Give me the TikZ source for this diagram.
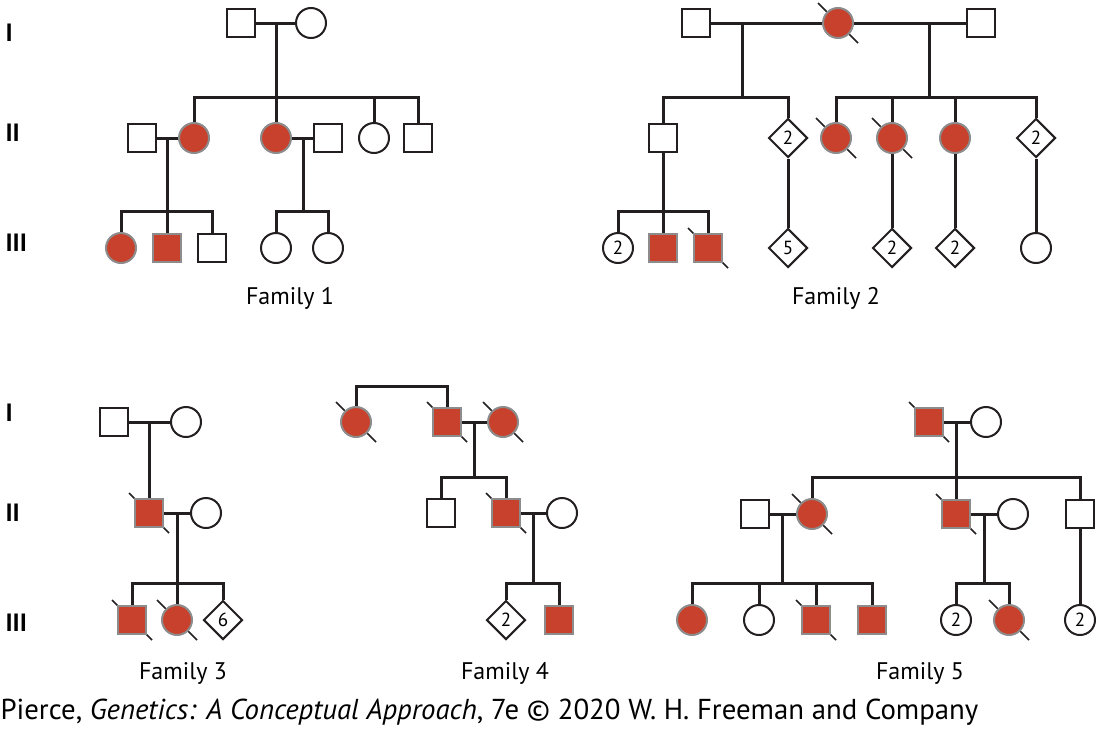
\documentclass[tikz,border=0pt]{standalone}
\usepackage{fontspec}
\setmainfont{PT Sans}
\usetikzlibrary{shapes.geometric,backgrounds,calc}
\definecolor{affred}{HTML}{C8412D}
\definecolor{ink}{HTML}{231F20}
\tikzset{
  sym/.style={draw=ink, line width=2pt, fill=white, inner sep=0pt, font=\fontsize{19}{19}\selectfont},
  male/.style={sym, rectangle, minimum size=28pt},
  female/.style={sym, circle, minimum size=30pt},
  unknown/.style={sym, diamond, minimum size=39pt},
  aff/.style={fill=affred, draw=gray!90},
  conn/.style={draw=ink, line width=3pt},
  slash/.style={draw=ink, line width=1.5pt},
  gen/.style={font=\fontsize{25}{25}\selectfont\bfseries, anchor=west},
  fam/.style={font=\fontsize{24}{24}\selectfont}
}
\begin{document}
\begin{tikzpicture}[x=1pt,y=-1pt]
	\useasboundingbox (0,0) rectangle (1099,731);
	% generation labels
	\node[gen] (g1a) at (2,33) {I};
	\node[gen] (g2a) at (2,133) {II};
	\node[gen] (g3a) at (2,243) {III};
	\node[gen] (g1b) at (2,413) {I};
	\node[gen] (g2b) at (2,513) {II};
	\node[gen] (g3b) at (2,623) {III};
	% Family 1
	\node[male] (f1a) at (241,23) {};
	\node[female] (f1b) at (311,23) {};
	\node[male] (f1c) at (142,138) {};
	\node[female,aff] (f1d) at (194,138) {};
	\node[female,aff] (f1e) at (276,138) {};
	\node[male] (f1f) at (328,138) {};
	\node[female] (f1g) at (374,138) {};
	\node[male] (f1h) at (418,138) {};
	\node[female,aff] (f1i) at (121,248) {};
	\node[male,aff] (f1l) at (167,248) {};
	\node[male] (f1m) at (212,248) {};
	\node[female] (f1o) at (276,248) {};
	\node[female] (f1p) at (328,248) {};
	\coordinate (f1j) at (276,23);
	\coordinate (f1s) at (276,97);
	\coordinate (f1k) at (167,138);
	\coordinate (f1t) at (167,211);
	\coordinate (f1n) at (303,138);
	\coordinate (f1u) at (303,211);
	\node[fam] (fam1) at (290,298) {Family 1};
	% Family 2
	\node[male] (f2a) at (696,23) {};
	\node[female,aff] (f2b) at (838,23) {};
	\node[male] (f2c) at (981,23) {};
	\node[male] (f2d) at (663,138) {};
	\node[unknown] (f2e) at (788,138) {2};
	\node[female,aff] (f2f) at (836,138) {};
	\node[female,aff] (f2g) at (892,138) {};
	\node[female,aff] (f2h) at (955,138) {};
	\node[unknown] (f2i) at (1036,138) {2};
	\node[female] (f2j) at (618,248) {2};
	\node[male,aff] (f2k) at (663,248) {};
	\node[male,aff] (f2l) at (708,248) {};
	\node[unknown] (f2m) at (788,248) {5};
	\node[unknown] (f2n) at (892,248) {2};
	\node[unknown] (f2o) at (955,248) {2};
	\node[female] (f2p) at (1036,248) {};
	\coordinate (f2q) at (742,23);
	\coordinate (f2s) at (742,97);
	\coordinate (f2r) at (929,23);
	\coordinate (f2t) at (929,97);
	\coordinate (f2u) at (663,211);
	\node[fam] (fam2) at (836,298) {Family 2};
	% Family 3
	\node[male] (f3a) at (114,422) {};
	\node[female] (f3b) at (186,422) {};
	\node[male,aff] (f3c) at (149,513) {};
	\node[female] (f3d) at (206,513) {};
	\node[male,aff] (f3e) at (132,620) {};
	\node[female,aff] (f3f) at (177,620) {};
	\node[unknown] (f3g) at (223,620) {6};
	\coordinate (f3j) at (149,422);
	\coordinate (f3k) at (177,513);
	\coordinate (f3s) at (177,583);
	\node[fam] (fam3) at (183,673) {Family 3};
	% Family 4
	\node[female,aff] (f4a) at (356,422) {};
	\node[male,aff] (f4b) at (447,422) {};
	\node[female,aff] (f4c) at (503,422) {};
	\node[male] (f4d) at (441,513) {};
	\node[male,aff] (f4e) at (506,513) {};
	\node[female] (f4f) at (562,513) {};
	\node[unknown] (f4g) at (506,620) {2};
	\node[male,aff] (f4h) at (559,620) {};
	\coordinate (f4top) at (400,386);
	\coordinate (f4j) at (474,422);
	\coordinate (f4s) at (474,477);
	\coordinate (f4k) at (533,513);
	\coordinate (f4t) at (533,583);
	\node[fam] (fam4) at (505,673) {Family 4};
	% Family 5
	\node[male,aff] (f5a) at (929,422) {};
	\node[female] (f5b) at (986,422) {};
	\node[male] (f5c) at (755,514) {};
	\node[female,aff] (f5d) at (812,514) {};
	\node[male,aff] (f5e) at (956,514) {};
	\node[female] (f5f) at (1013,514) {};
	\node[male] (f5g) at (1080,514) {};
	\node[female,aff] (f5h) at (692,620) {};
	\node[female] (f5i) at (759,620) {};
	\node[male,aff] (f5k) at (816,620) {};
	\node[male,aff] (f5l) at (872,620) {};
	\node[female] (f5m) at (956,620) {2};
	\node[female,aff] (f5n) at (1009,620) {};
	\node[female] (f5o) at (1080,620) {2};
	\coordinate (f5j) at (956,422);
	\coordinate (f5s) at (956,477);
	\coordinate (f5q) at (782,514);
	\coordinate (f5t) at (782,583);
	\coordinate (f5r) at (984,514);
	\coordinate (f5u) at (984,583);
	\node[fam] (fam5) at (920,673) {Family 5};
	% source line
	\node[anchor=west, font=\fontsize{28.8}{28.8}\selectfont] (src) at (-3,712)
		{Pierce, \textit{Genetics: A Conceptual Approach}, 7e © 2020 W. H. Freeman and Company};
	\begin{scope}[on background layer]
		% Family 1
		\draw[conn] (f1a) -- (f1b);
		\draw[conn] (f1j) -- (f1s);
		\draw[conn] (f1d.north) |- (f1s) -| (f1h.north);
		\foreach \n in {f1e,f1g} \draw[conn] (\n.north) -- (\n.north |- f1s);
		\draw[conn] (f1c) -- (f1d);
		\draw[conn] (f1k) -- (f1t);
		\draw[conn] (f1i.north) |- (f1t) -| (f1m.north);
		\draw[conn] (f1l.north) -- (f1t);
		\draw[conn] (f1e) -- (f1f);
		\draw[conn] (f1n) -- (f1u);
		\draw[conn] (f1o.north) |- (f1u) -| (f1p.north);
		% Family 2
		\draw[conn] (f2a) -- (f2b);
		\draw[conn] (f2b) -- (f2c);
		\draw[conn] (f2q) -- (f2s);
		\draw[conn] (f2r) -- (f2t);
		\draw[conn] (f2d.north) |- (f2s) -| (f2e.north);
		\draw[conn] (f2f.north) |- (f2t) -| (f2i.north);
		\foreach \n in {f2g,f2h} \draw[conn] (\n.north) -- (\n.north |- f2t);
		\draw[conn] (f2d) -- (f2u);
		\draw[conn] (f2j.north) |- (f2u) -| (f2l.north);
		\draw[conn] (f2k.north) -- (f2u);
		\draw[conn] (f2e) -- (f2m);
		\draw[conn] (f2g) -- (f2n);
		\draw[conn] (f2h) -- (f2o);
		\draw[conn] (f2i) -- (f2p);
		% Family 3
		\draw[conn] (f3a) -- (f3b);
		\draw[conn] (f3j) -- (f3c);
		\draw[conn] (f3c) -- (f3d);
		\draw[conn] (f3k) -- (f3s);
		\draw[conn] (f3e.north) |- (f3s) -| (f3g.north);
		\draw[conn] (f3f.north) -- (f3s);
		% Family 4
		\draw[conn] (f4a.north) |- (f4top) -| (f4b.north);
		\draw[conn] (f4b) -- (f4c);
		\draw[conn] (f4j) -- (f4s);
		\draw[conn] (f4d.north) |- (f4s) -| (f4e.north);
		\draw[conn] (f4e) -- (f4f);
		\draw[conn] (f4k) -- (f4t);
		\draw[conn] (f4g.north) |- (f4t) -| (f4h.north);
		% Family 5
		\draw[conn] (f5a) -- (f5b);
		\draw[conn] (f5j) -- (f5s);
		\draw[conn] (f5d.north) |- (f5s) -| (f5g.north);
		\draw[conn] (f5e.north) -- (f5s);
		\draw[conn] (f5c) -- (f5d);
		\draw[conn] (f5q) -- (f5t);
		\draw[conn] (f5h.north) |- (f5t) -| (f5l.north);
		\foreach \n in {f5i,f5k} \draw[conn] (\n.north) -- (\n.north |- f5t);
		\draw[conn] (f5e) -- (f5f);
		\draw[conn] (f5r) -- (f5u);
		\draw[conn] (f5m.north) |- (f5u) -| (f5n.north);
		\draw[conn] (f5g) -- (f5o);
		% deceased marks
		\foreach \n in {f2b,f2f,f2g,f2l,f3c,f3e,f3f,f4a,f4b,f4c,f4e,f5a,f5d,f5e,f5k,f5n}
			\draw[slash] ($(\n)+(-20,-20)$) -- ($(\n)+(20,20)$);
	\end{scope}
\end{tikzpicture}
\end{document}
